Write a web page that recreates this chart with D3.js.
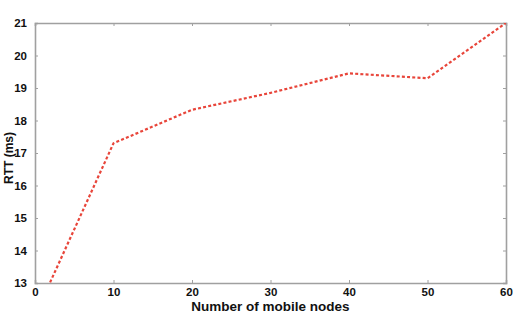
<!DOCTYPE html>
<html><head><meta charset="utf-8">
<script src="https://cdn.jsdelivr.net/npm/d3@7"></script>
<style>
html,body{margin:0;padding:0;background:#fff;}
svg{display:block;}
text{font-family:"Liberation Sans",Arial,Helvetica,sans-serif;font-weight:bold;fill:#111;}
</style></head>
<body>
<svg id="c" width="513" height="317"></svg>
<script>
const nodes = [0, 10, 20, 30, 40, 50, 60];
const rtt = [12.0, 17.3, 18.33, 18.85, 19.45, 19.3, 21.0];
const xTicks = [0, 10, 20, 30, 40, 50, 60];
const yTicks = [13, 14, 15, 16, 17, 18, 19, 20, 21];
const xTitle = "Number of mobile nodes";
const yTitle = "RTT (ms)";

const svg = d3.select("#c");
const L = 35, R = 506, T = 23, B = 283;
const x = d3.scaleLinear().domain([0, 60]).range([L, R]);
const y = d3.scaleLinear().domain([13, 21]).range([B, T]);

svg.append("clipPath").attr("id", "clip")
  .append("rect").attr("x", L).attr("y", T).attr("width", R - L).attr("height", B - T);

const frameColor = "#a0a0a0";
const gx = svg.append("g").attr("transform", `translate(0,${B})`)
  .call(d3.axisBottom(x).tickValues(xTicks).tickSize(-3).tickPadding(5));
const gxt = svg.append("g").attr("transform", `translate(0,${T})`)
  .call(d3.axisTop(x).tickValues(xTicks).tickSize(-3).tickFormat(""));
const gy = svg.append("g").attr("transform", `translate(${L},0)`)
  .call(d3.axisLeft(y).tickValues(yTicks).tickSize(-3).tickPadding(8));
const gyr = svg.append("g").attr("transform", `translate(${R},0)`)
  .call(d3.axisRight(y).tickValues(yTicks).tickSize(-3).tickFormat(""));
[gx, gxt, gy, gyr].forEach(g => {
  g.select(".domain").attr("stroke", frameColor).attr("stroke-width", 1.6);
  g.selectAll(".tick line").attr("stroke", frameColor).attr("stroke-width", 1);
  g.selectAll(".tick text").attr("font-size", 11.5).attr("font-family", '"Liberation Sans",Arial,sans-serif')
    .attr("font-weight", "bold").attr("fill", "#111");
});

const line = d3.line().x((d, i) => x(nodes[i])).y(d => y(d));
svg.append("path").datum(rtt)
  .attr("clip-path", "url(#clip)")
  .attr("d", line)
  .attr("fill", "none")
  .attr("stroke", "#e8453a")
  .attr("stroke-width", 2.2)
  .attr("stroke-dasharray", "3,2.2");

svg.append("text").attr("x", (L + R) / 2).attr("y", 311)
  .attr("text-anchor", "middle").attr("font-size", 13.5).text(xTitle);
svg.append("text").attr("transform", `translate(13,${(T + B) / 2 + 5}) rotate(-90)`)
  .attr("text-anchor", "middle").attr("font-size", 12).text(yTitle);
</script>
</body></html>
